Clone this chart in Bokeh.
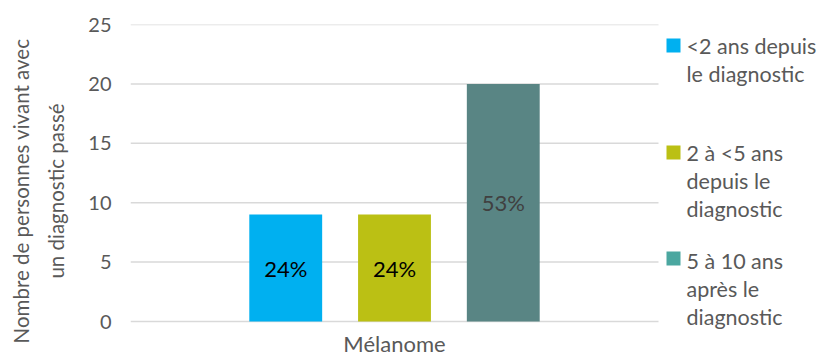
from bokeh.plotting import figure
from bokeh.models import ColumnDataSource, Range1d, FixedTicker
from bokeh.embed import file_html
from bokeh.resources import INLINE
from bokeh.core.properties import value

category = ["Mélanome"]
series = ["<2 ans depuis\nle diagnostic", "2 à <5 ans\ndepuis le\ndiagnostic", "5 à 10 ans\naprès le\ndiagnostic"]
values = [9, 9, 20]
pct_labels = ["24%", "24%", "53%"]
bar_colors = ["#00B0F0", "#BBC014", "#598584"]
legend_colors = ["#00B0F0", "#BBC014", "#4BA7A0"]
label_colors = ["#000000", "#000000", "#404040"]
y_ticks = [0, 5, 10, 15, 20, 25]

FONT = "Lato"
GREY = "#595959"

# layout (pixels)
FRAME_L, FRAME_R_PLOT, W, H = 130, 658, 820, 357
TOP, BOTTOM = 24, 321
plot_w = FRAME_R_PLOT - FRAME_L          # width of the plotting region (1 unit in x)
x_end = (W - FRAME_L) / plot_w
px_per_unit = (BOTTOM - TOP) / 25
y_start = -(H - BOTTOM) / px_per_unit

p = figure(width=W, height=H, x_range=Range1d(0, x_end), y_range=Range1d(y_start, 25),
           output_backend="svg", toolbar_location=None,
           min_border_left=FRAME_L, min_border_right=0, min_border_top=TOP,
           min_border_bottom=0)
p.outline_line_color = None
p.border_fill_color = "white"
p.background_fill_color = "white"
p.xaxis.visible = False

def py2y(py):
    return (BOTTOM - py) / px_per_unit

# grid lines (only over the plotting region)
p.segment(x0=[0] * len(y_ticks), x1=[1] * len(y_ticks), y0=y_ticks, y1=y_ticks,
          line_color="#D9D9D9", line_width=1.5)

cat_x = [0.5 + i for i in range(len(category))]
offsets = [-0.206, 0.0, 0.206]
for i in range(3):
    src = ColumnDataSource(dict(x=[cat_x[0] + offsets[i]], top=[values[i]], lab=[pct_labels[i]],
                                ymid=[values[i] / 2]))
    p.vbar(x="x", top="top", bottom=0, width=0.138, source=src,
           fill_color=bar_colors[i], line_color=None)
    p.text(x="x", y="ymid", text="lab", source=src, text_align="center",
           text_baseline="middle", text_font=value(FONT), text_font_size="22px",
           text_color=label_colors[i])

# category label
p.text(x=cat_x, y=[py2y(343)], text=category, text_align="center", text_baseline="middle",
       text_font=value(FONT), text_font_size="22px", text_color=GREY)

p.yaxis.ticker = FixedTicker(ticks=y_ticks)
p.yaxis.axis_line_color = None
p.yaxis.major_tick_line_color = None
p.yaxis.major_tick_out = 0
p.yaxis.minor_tick_line_color = None
p.yaxis.major_label_text_font = FONT
p.yaxis.major_label_text_font_size = "20px"
p.yaxis.major_label_text_color = GREY
p.yaxis.major_label_standoff = 19
p.yaxis.axis_label = "Nombre de personnes vivant avec\nun diagnostic passé"
p.yaxis.axis_label_text_font = FONT
p.yaxis.axis_label_text_font_size = "20.5px"
p.yaxis.axis_label_text_font_style = "normal"
p.yaxis.axis_label_text_color = GREY
p.yaxis.axis_label_text_line_height = 1.45
p.yaxis.axis_label_standoff = 17

p.xgrid.grid_line_color = None
p.ygrid.grid_line_color = None

# legend (manual, right of the plotting region)
sq_py = [45, 152, 258]
line_py = [[45, 73], [152, 180, 208], [260, 288, 316]]
sq_x = (673 - FRAME_L) / plot_w
tx_x = (686 - FRAME_L) / plot_w
p.scatter(x=[sq_x] * 3, y=[py2y(v) for v in sq_py], marker="square", size=14,
          fill_color=legend_colors, line_color=None)
lx, ly, lt = [], [], []
for i, s in enumerate(series):
    for j, line in enumerate(s.split("\n")):
        lx.append(tx_x)
        ly.append(py2y(line_py[i][j]))
        lt.append(line)
p.text(x=lx, y=ly, text=lt, text_align="left", text_baseline="middle",
       text_font=value(FONT), text_font_size="21.5px", text_color=GREY)

open("out.html", "w").write(file_html(p, INLINE))
